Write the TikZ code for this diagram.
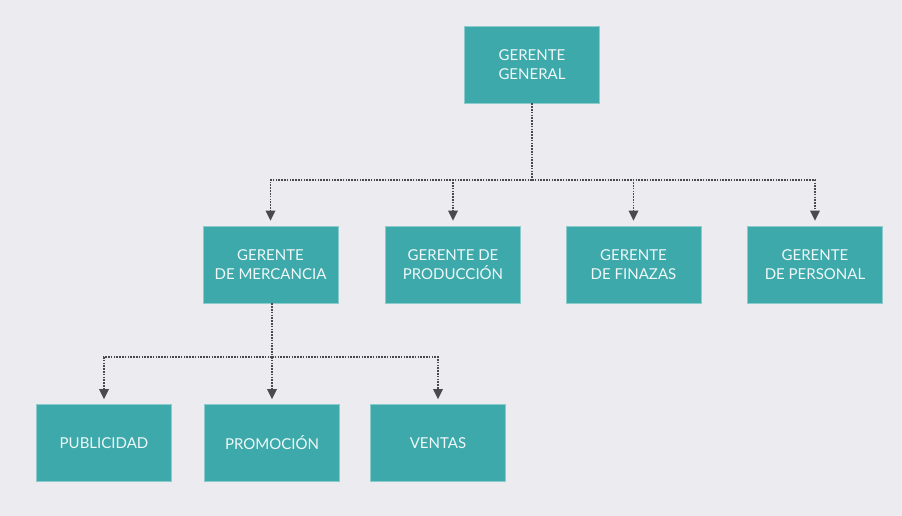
\documentclass[tikz,border=0pt]{standalone}
\usepackage{fontspec}
\setmainfont{Lato}
\usetikzlibrary{arrows.meta}
\definecolor{bg}{HTML}{ECECF0}
\definecolor{teal}{HTML}{3DA9AA}
\definecolor{linec}{HTML}{4A4A4E}
\begin{document}
\begin{tikzpicture}[x=1pt,y=-1pt,
  box/.style={fill=teal,draw=teal!60!white,line width=0.8pt,minimum width=135pt,minimum height=77pt,inner sep=0pt,
    align=center,text=white!92!teal,font=\fontsize{15}{19}\selectfont},
  dotline/.style={draw=linec,line width=1.5pt,dash pattern=on 1.6pt off 1.2pt},
  arr/.style={dotline,-{Triangle[width=10pt,length=10pt,fill=linec,line width=0pt]},shorten >=5pt}]
\fill[bg] (0,0) rectangle (902,516);
\useasboundingbox (0,0) rectangle (902,516);
\node[box] (gg) at (532,64.5) {GERENTE\\GENERAL};
\node[box] (gm) at (270.5,264.5) {GERENTE\\DE MERCANCIA};
\node[box] (gp) at (453,264.5) {GERENTE DE\\PRODUCCIÓN};
\node[box] (gf) at (633.5,264.5) {GERENTE\\DE FINAZAS};
\node[box] (gpe) at (815,264.5) {GERENTE\\DE PERSONAL};
\node[box] (pu) at (104,443) {PUBLICIDAD};
\node[box] (pr) at (272,443) {PROMOCIÓN};
\node[box] (ve) at (438,443) {VENTAS};
\coordinate (b1) at (532,180);
\coordinate (b2) at (272,357);
\draw[dotline] (gg.south) -- (b1);
\draw[arr] (b1) -| (gm.north);
\draw[arr] (b1) -| (gp.north);
\draw[arr] (b1) -| (gf.north);
\draw[arr] (b1) -| (gpe.north);
\draw[dotline] (gm.south -| b2) -- (b2);
\draw[arr] (b2) -| (pu.north);
\draw[arr] (b2) -- (pr.north);
\draw[arr] (b2) -| (ve.north);
\end{tikzpicture}
\end{document}
